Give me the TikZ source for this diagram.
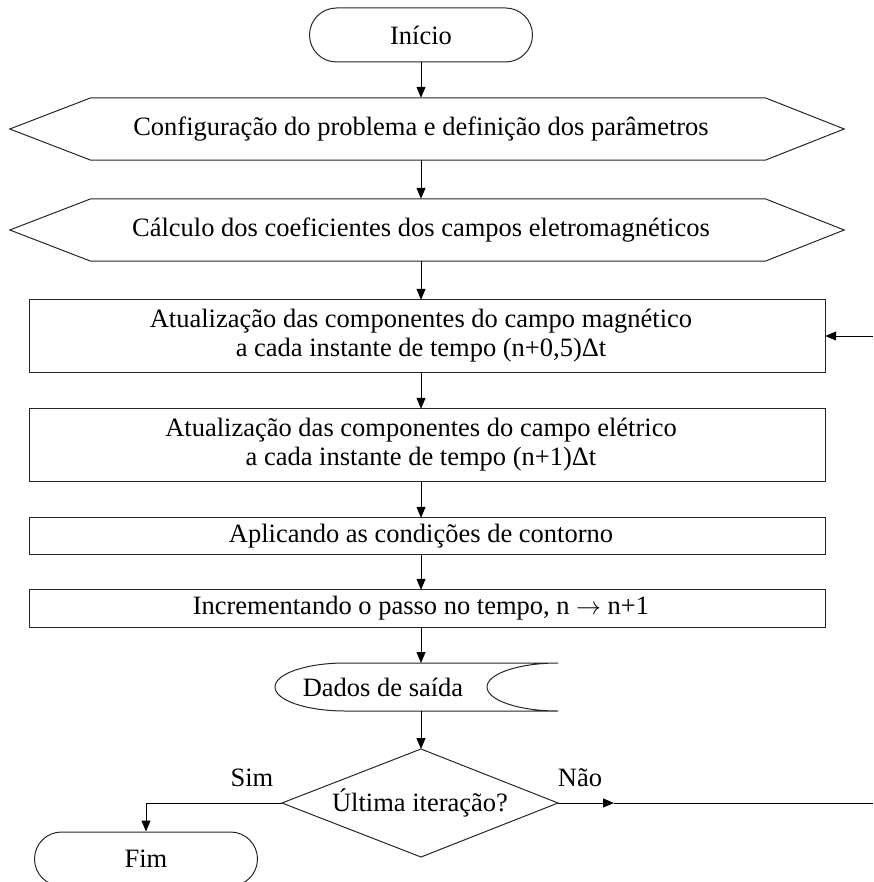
\documentclass[tikz,border=0pt]{standalone}
\usepackage{fontspec}
\setmainfont{Liberation Serif}
\usetikzlibrary{arrows.meta,shapes.misc,calc}
\begin{document}
\begin{tikzpicture}[x=1pt,y=-1pt,
  every node/.style={font=\fontsize{26.5}{29}\selectfont},
  shapeline/.style={draw=black!85,line width=1pt},
  procbox/.style={rectangle,minimum width=782,align=center,inner sep=0},
  termbox/.style={shapeline,rounded rectangle,minimum width=223,minimum height=54,inner sep=0},
  hexbox/.style={rectangle,minimum width=660,minimum height=62,inner sep=0},
  arr/.style={line width=1pt,-{Triangle[length=11pt,width=9pt]}},
  plain/.style={line width=1pt}]
\clip (0,0) rectangle (873,882);
% terminals
\node[termbox] (inicio) at (421,35) {Início};
\node[termbox] (fim) at (146,859) {Fim};
% hexagons
\node[hexbox] (h1) at (421,129) {Configuração do problema e definição dos parâmetros};
\draw[shapeline] (h1.north west) -- ([xshift=14]h1.north east) -- ([xshift=93]h1.east) -- ([xshift=14]h1.south east)
  -- (h1.south west) -- ([xshift=-81]h1.west) -- cycle;
\node[hexbox] (h2) at (421,230) {Cálculo dos coeficientes dos campos eletromagnéticos};
\draw[shapeline] (h2.north west) -- ([xshift=14]h2.north east) -- ([xshift=93]h2.east) -- ([xshift=14]h2.south east)
  -- (h2.south west) -- ([xshift=-81]h2.west) -- cycle;
% process boxes
\node[procbox,minimum height=72] (r1) at (421,336) {Atualização das componentes do campo magnético\\ a cada instante de tempo (n+0,5)Δt};
\draw[shapeline] (r1.north west) rectangle ([xshift=13]r1.south east);
\node[procbox,minimum height=72] (r2) at (421,445) {Atualização das componentes do campo elétrico\\ a cada instante de tempo (n+1)Δt};
\draw[shapeline] (r2.north west) rectangle ([xshift=13]r2.south east);
\node[procbox,minimum height=36] (r3) at (421,536) {Aplicando as condições de contorno};
\draw[shapeline] (r3.north west) rectangle ([xshift=13]r3.south east);
\node[procbox,minimum height=37] (r4) at (421,608.5) {Incrementando o passo no tempo, n $\rightarrow$ n+1};
\draw[shapeline] (r4.north west) rectangle ([xshift=13]r4.south east);
% stored data
\node (dados) at (383,687) {Dados de saída};
\coordinate (dN) at (421,663);
\coordinate (dS) at (421,711);
\draw[shapeline] (558,663) -- (345,663) arc[start angle=270,end angle=90,x radius=70,y radius=24]
  -- (558,711) arc[start angle=90,end angle=270,x radius=71,y radius=24];
% decision
\node (dec) at (420,803) {Última iteração?};
\coordinate (qN) at (421,749);
\coordinate (qE) at (558,803);
\coordinate (qS) at (421,857);
\coordinate (qW) at (282,803);
\draw[shapeline] (qN) -- (qE) -- (qS) -- (qW) -- cycle;
% connectors
\draw[arr] (inicio.south) -- (inicio.south |- h1.north);
\draw[arr] (inicio.south |- h1.south) -- (inicio.south |- h2.north);
\draw[arr] (inicio.south |- h2.south) -- (inicio.south |- r1.north);
\draw[arr] (inicio.south |- r1.south) -- (inicio.south |- r2.north);
\draw[arr] (inicio.south |- r2.south) -- (inicio.south |- r3.north);
\draw[arr] (inicio.south |- r3.south) -- (inicio.south |- r4.north);
\draw[arr] (inicio.south |- r4.south) -- (dN);
\draw[arr] (dS) -- (qN);
\coordinate (loopin) at (873,336);
\draw[arr] (loopin) -- ([xshift=13]r1.east);
\draw[arr] (qW) -| (fim.north);
\coordinate (naoArr) at (614,803);
\coordinate (naoEnd) at (873,803);
\draw[arr] (qE) -- (naoArr);
\draw[plain] (naoArr) -- (naoEnd);
\node (sim) at (252,778) {Sim};
\node (nao) at (580,778) {Não};
\end{tikzpicture}
\end{document}
